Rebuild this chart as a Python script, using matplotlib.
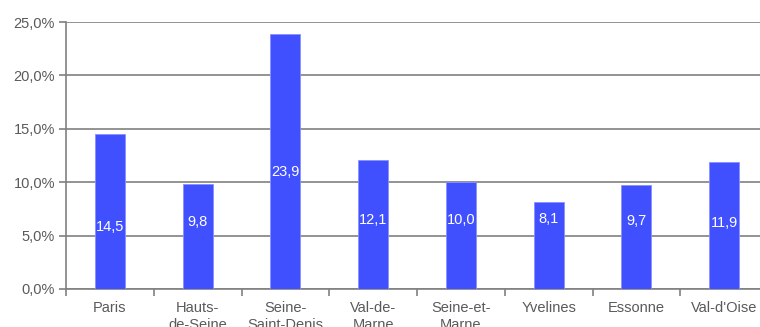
import numpy as np
import matplotlib.pyplot as plt
from matplotlib.ticker import FuncFormatter, FixedLocator

plt.rcParams['font.family'] = ['Liberation Sans', 'DejaVu Sans']

departements = ["Paris", "Hauts-\nde-Seine", "Seine-\nSaint-Denis", "Val-de-\nMarne",
                "Seine-et-\nMarne", "Yvelines", "Essonne", "Val-d'Oise"]
taux = [14.5, 9.8, 23.9, 12.1, 10.0, 8.1, 9.7, 11.9]
labels = ["14,5", "9,8", "23,9", "12,1", "10,0", "8,1", "9,7", "11,9"]

# where the value labels sit inside the bars (as in the original export)
label_y = [5.8, 6.3, 11.0, 6.5, 6.5, 6.6, 6.4, 6.2]

grey = "#808080"
txt = "#5a5a5a"
blue = "#4050FF"

fig = plt.figure(figsize=(7.6, 3.27), dpi=100)
ax = fig.add_axes([66 / 760, 38 / 327, 702 / 760, 267 / 327])

x = np.arange(len(taux))
ax.bar(x, taux, width=0.34, color=blue, edgecolor="#8890ff", linewidth=0.6, zorder=3)
for xi, yi, lab in zip(x, label_y, labels):
    ax.text(xi, yi, lab, color="white", fontsize=10.5, ha="center", va="center", zorder=4)

ax.set_xlim(-0.5, len(taux) - 0.5)
ax.set_ylim(0, 25)
ax.set_yticks(np.arange(0, 26, 5))
ax.yaxis.set_major_formatter(FuncFormatter(lambda v, p: f"{v:.1f}%".replace(".", ",")))
ax.grid(axis="y", color=grey, linewidth=1.2, zorder=0)

ax.set_xticks(x)
ax.set_xticklabels(departements, fontsize=10.5, color=txt, linespacing=1.2)
ax.tick_params(axis="x", which="major", length=0, pad=9)
ax.xaxis.set_minor_locator(FixedLocator(np.arange(-0.5, len(taux), 1.0)))
ax.tick_params(axis="x", which="minor", length=5, color=grey, width=1.2)
ax.tick_params(axis="y", length=5, color=grey, width=1.2, labelsize=10.5, labelcolor=txt, pad=3)

for s in ["top", "right"]:
    ax.spines[s].set_visible(False)
for s in ["left", "bottom"]:
    ax.spines[s].set_color(grey)
    ax.spines[s].set_linewidth(1.2)

plt.savefig("out.png", dpi=100)
